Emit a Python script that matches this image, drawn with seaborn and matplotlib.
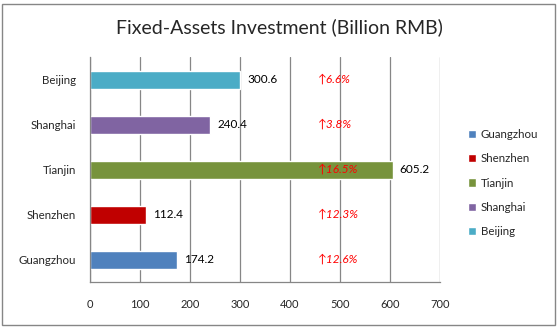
import matplotlib
matplotlib.use("Agg")
import matplotlib.pyplot as plt
import seaborn as sns
import pandas as pd
from matplotlib.patches import Rectangle

cities = ["Beijing", "Shanghai", "Tianjin", "Shenzhen", "Guangzhou"]
values = [300.6, 240.4, 605.2, 112.4, 174.2]
growth = ["6.6%", "3.8%", "16.5%", "12.3%", "12.6%"]
legend_order = ["Guangzhou", "Shenzhen", "Tianjin", "Shanghai", "Beijing"]
colors = {"Guangzhou": "#4F81BD", "Shenzhen": "#C00000", "Tianjin": "#77933C",
          "Shanghai": "#8064A2", "Beijing": "#4BACC6"}
xticks = [0, 100, 200, 300, 400, 500, 600, 700]
title = "Fixed-Assets Investment (Billion RMB)"

df = pd.DataFrame({"city": cities, "value": values, "growth": growth})

sns.set_style("white")
plt.rcParams["font.family"] = ["Lato", "DejaVu Sans"]

fig = plt.figure(figsize=(5.59, 3.28), dpi=100)
ax = fig.add_axes([90/559, 1-282/328, 350/559, 225/328])

sns.barplot(data=df, y="city", x="value", hue="city", order=cities,
            hue_order=legend_order, palette=colors, dodge=False, width=0.4,
            orient="h", ax=ax, legend=True, saturation=1)

ax.set_xlim(0, 700)
ax.set_ylim(4.5, -0.5)
ax.set_xticks(xticks)
ax.set_xticklabels([str(t) for t in xticks], fontsize=8)
ax.set_xlabel("")
ax.set_ylabel("")
ax.tick_params(axis="y", which="major", length=0, labelsize=8.3, pad=10)
ax.set_yticks([i - 0.5 for i in range(len(cities) + 1)], minor=True)
ax.tick_params(axis="y", which="minor", length=5, color="#868686", direction="out")
ax.tick_params(axis="x", which="major", length=5, color="#868686", direction="out", pad=7)
ax.grid(axis="x", color="#868686", linewidth=0.9)
ax.set_axisbelow(True)
for s in ["top", "right"]:
    ax.spines[s].set_visible(False)
for s in ["left", "bottom"]:
    ax.spines[s].set_color("#868686")
    ax.spines[s].set_linewidth(0.9)

for i, (v, g) in enumerate(zip(values, growth)):
    ax.text(v + 14, i, f"{v:.1f}", va="center", ha="left", fontsize=8.5, color="black")
    ax.text(455, i, "\u2191" + g, va="center", ha="left", fontsize=8.5,
            color="#FF0000", style="italic", family=["Lato", "DejaVu Sans"])

handles, labels = ax.get_legend_handles_labels()
ax.legend(handles, labels, loc="center left", bbox_to_anchor=(468/559, 1-183/328),
          bbox_transform=fig.transFigure, frameon=False, fontsize=8.3,
          handlelength=0.7, handleheight=0.7, handletextpad=0.4, labelspacing=1.15,
          borderpad=0, borderaxespad=0)

fig.text(0.5, 1-27/328, title, ha="center", va="center", fontsize=14)
fig.patches.append(Rectangle((2/559, 3/328), 553/559, 321/328, transform=fig.transFigure,
                             fill=False, edgecolor="#868686", linewidth=1))

fig.savefig("out.png", dpi=100)
